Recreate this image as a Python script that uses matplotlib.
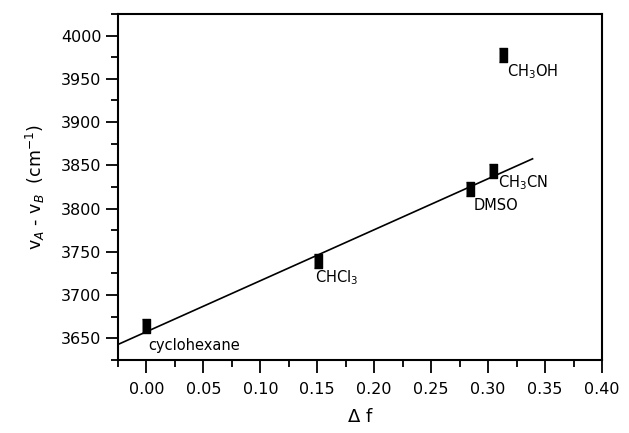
import matplotlib
matplotlib.use("Agg")
import matplotlib.pyplot as plt
import numpy as np

# solvent data
solvents = ["cyclohexane", "CHCl$_3$", "DMSO", "CH$_3$CN", "CH$_3$OH"]
delta_f = [0.000, 0.151, 0.284, 0.304, 0.313]
nu_diff = [3664, 3739, 3823, 3844, 3978]

# label positions next to each point
label_x = [0.002, 0.148, 0.2876, 0.309, 0.3165]
label_y = [3642, 3720, 3804, 3830, 3958]

# straight line through the points (CH3OH left out)
fit_slope = 589.6
fit_icept = 3657.7
fit_x = np.array([-0.025, 0.339])

plt.rcParams['font.family'] = ['DejaVu Sans']

fig = plt.figure(figsize=(6.29, 4.33), dpi=100)
ax = fig.add_axes([0.1876, 0.1686, 0.7695, 0.7991])

rect = [(-0.31, -0.5), (0.31, -0.5), (0.31, 0.5), (-0.31, 0.5)]
ax.plot(fit_x, fit_icept + fit_slope * fit_x, color="black", lw=1.2)
ax.plot(delta_f, nu_diff, linestyle="none", marker=rect, markersize=9.5,
        color="black")

for name, tx, ty in zip(solvents, label_x, label_y):
    ax.text(tx, ty, name, fontsize=10.5, ha="left", va="center")

ax.set_xlim(-0.025, 0.40)
ax.set_ylim(3625, 4025)
ax.set_xticks(np.arange(0, 0.401, 0.05))
ax.set_xticks(np.arange(-0.025, 0.401, 0.025), minor=True)
ax.set_yticks(np.arange(3650, 4001, 50))
ax.set_yticks(np.arange(3625, 4026, 25), minor=True)
ax.xaxis.set_major_formatter(matplotlib.ticker.FormatStrFormatter("%.2f"))

ax.tick_params(which="major", direction="out", length=9, width=1.3,
               labelsize=11.5)
ax.tick_params(axis="x", which="major", pad=7)
ax.tick_params(axis="y", which="major", pad=3)
ax.tick_params(which="minor", direction="out", length=5, width=1.3)
for s in ax.spines.values():
    s.set_linewidth(1.5)

ax.set_xlabel(r"$\Delta$ f", fontsize=13, labelpad=8)
ax.set_ylabel(r"v$_A$ - v$_B$  (cm$^{-1}$)", fontsize=12.5, labelpad=10)

fig.savefig("out.png", dpi=100)
